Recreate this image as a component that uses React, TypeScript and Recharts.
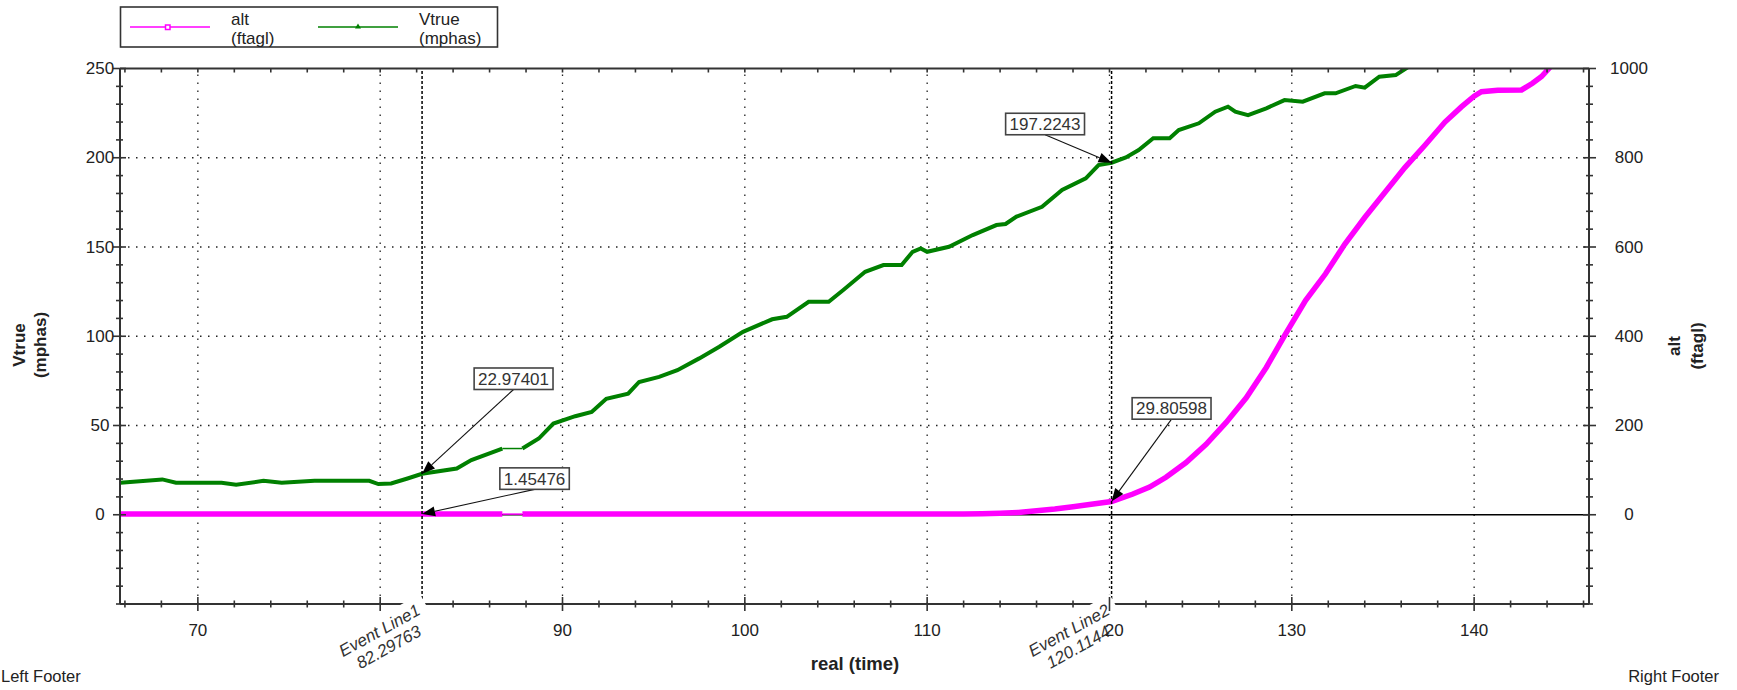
import React from 'react';
import { LineChart, Line, XAxis, YAxis, ReferenceLine, ReferenceDot } from 'recharts';

const FONT = '"Liberation Sans", Arial, Helvetica, sans-serif';
const W = 1737;
const H = 690;

// ---------- axes ----------
const X_DOMAIN: [number, number] = [65.73, 146.3];
const X_MAJOR = [70, 80, 90, 100, 110, 120, 130, 140];
const X_TICKS = [66, 68, 70, 72, 74, 76, 78, 80, 82, 84, 86, 88, 90, 92, 94, 96, 98, 100, 102, 104, 106, 108, 110, 112, 114, 116, 118, 120, 122, 124, 126, 128, 130, 132, 134, 136, 138, 140, 142, 144, 146];
const YL_DOMAIN: [number, number] = [-50, 250];
const YL_MAJOR = [0, 50, 100, 150, 200, 250];
const YL_TICKS = [-50, -40, -30, -20, -10, 0, 10, 20, 30, 40, 50, 60, 70, 80, 90, 100, 110, 120, 130, 140, 150, 160, 170, 180, 190, 200, 210, 220, 230, 240, 250];
const YR_DOMAIN: [number, number] = [-200, 1000];
const YR_MAJOR = [0, 200, 400, 600, 800, 1000];
const YR_TICKS = [-200, -160, -120, -80, -40, 0, 40, 80, 120, 160, 200, 240, 280, 320, 360, 400, 440, 480, 520, 560, 600, 640, 680, 720, 760, 800, 840, 880, 920, 960, 1000];
const X_GRID = [70, 80, 90, 100, 110, 120, 130, 140];
const Y_GRID = [50, 100, 150, 200];

// ---------- series: Vtrue (mphas), left axis ----------
const TIME_V = [65.75, 68.05, 68.8, 71.3, 72.1, 73.6, 74.6, 76.4, 79.4, 79.9, 80.6, 81.5, 82.29763, 84.2, 85.0, 86.7, 87.8, 88.7, 89.5, 90.7, 91.6, 92.4, 93.6, 94.2, 95.3, 96.3, 97.5, 98.6, 99.9, 101.5, 102.3, 103.5, 104.6, 105.4, 106.6, 107.6, 108.6, 109.2, 109.65, 110.0, 111.2, 112.5, 113.8, 114.3, 114.9, 116.3, 117.4, 118.7, 119.4, 120.1144, 120.9, 121.6, 122.4, 123.3, 123.8, 124.9, 125.8, 126.5, 126.9, 127.6, 128.6, 129.6, 130.6, 131.8, 132.4, 133.5, 134.0, 134.8, 135.7, 136.4, 137.0];
const VTRUE = [17.9, 19.8, 17.9, 17.9, 16.8, 19.0, 17.9, 19.0, 19.0, 17.2, 17.5, 20.3, 22.97401, 25.9, 30.6, 37.1, 37.1, 42.7, 51.1, 55.2, 57.6, 65.0, 67.8, 74.4, 77.2, 81.0, 87.6, 94.1, 102.5, 109.5, 110.9, 119.3, 119.3, 125.9, 136.1, 139.9, 139.9, 147.3, 149.2, 147.3, 150.1, 156.7, 162.3, 162.9, 167.0, 172.5, 181.9, 188.5, 195.9, 197.2243, 200.2, 204.3, 210.9, 210.9, 215.5, 219.3, 225.8, 228.6, 225.8, 223.9, 227.7, 232.3, 231.4, 236.1, 236.1, 240.2, 239.3, 245.4, 246.3, 251.0, 254.0];

// ---------- series: alt (ftagl), right axis ----------
const TIME_A = [65.75, 86.7, 87.8, 100, 110, 112, 113, 114, 115, 116, 117, 118, 119, 120.1144, 121.25, 122.2, 123.1, 124.2, 125.3, 126.4, 127.5, 128.6, 129.65, 130.75, 131.85, 132.9, 134.0, 135.1, 136.2, 137.3, 138.4, 139.3, 140.0, 140.4, 141.3, 142.6, 143.2, 143.7, 144.1, 144.4];
const ALT = [1.45476, 1.45, 1.45, 1.45, 1.45, 1.6, 2.2, 3.3, 5.0, 9.0, 13.0, 18.0, 23.5, 29.80598, 46, 62, 84, 117, 158, 207, 262, 330, 405, 480, 540, 606, 666, 722, 778, 828, 880, 914, 938, 948, 951, 952, 967, 982, 1000, 1015];

// data gap (no samples) in both series
const GAP_START = 86.7;
const GAP_END = 87.8;

// ---------- events & callouts ----------
const EVENTS = [82.29763, 120.1144];
const EVENT_NAMES = ['Event Line1', 'Event Line2'];
const CALLOUT_X = [82.29763, 82.29763, 120.1144, 120.1144];
const CALLOUT_Y = [22.97401, 1.45476, 197.2243, 29.80598];
const CALLOUT_AXIS = ['left', 'right', 'left', 'right'];
const CALLOUT_TEXT = ['22.97401', '1.45476', '197.2243', '29.80598'];
// layout offsets of the callout boxes (box centre relative to the pointed value)
const CALLOUT_OFFSET = [
  [91.5, -95],
  [112.5, -35.5],
  [-66.5, -38.7],
  [60, -93],
];

const AXIS_COLOR = '#333';
const TXT = '#222';

function textWidth(s: string, size: number) {
  let w = 0;
  for (const c of s) w += c === '.' ? 0.278 : 0.556;
  return w * size;
}

function rows(ts: number[], vs: number[], key: string, gapAt: number | null) {
  const out: any[] = [];
  ts.forEach((t, i) => {
    out.push({ t, [key]: vs[i] });
    if (gapAt !== null && t === gapAt) out.push({ t: t + 0.01, [key]: null });
  });
  return out;
}

function gapRows(ts: number[], vs: number[], key: string) {
  const i0 = ts.indexOf(GAP_START);
  const i1 = ts.indexOf(GAP_END);
  return [
    { t: ts[i0], [key]: vs[i0] },
    { t: ts[i1], [key]: vs[i1] },
  ];
}

const BottomTick = (props: any) => {
  const { x, y, payload } = props;
  const v = payload.value;
  const major = X_MAJOR.includes(v);
  // a tick label lying just left of an event line is covered by the event label
  const covered = EVENTS.some((e) => e - v >= 0 && e - v < 3);
  const minorHidden = !major && EVENTS.some((e) => e - v >= 0 && e - v < 1);
  return (
    <g>
      {!minorHidden && (
        <line x1={x} x2={x} y1={y - (major ? 7 : 3.5)} y2={y + (major ? 7 : 3.5)} stroke={AXIS_COLOR} strokeWidth={1.6} />
      )}
      {major && !covered && (
        <text x={x} y={y + 26} textAnchor="middle" dominantBaseline="central" fontSize={17} fontFamily={FONT} fill={TXT}>
          {v}
        </text>
      )}
      {major && covered && EVENTS.some((e) => e - v < 0.5) && (
        <text x={x + 4.7} y={y + 26} textAnchor="middle" dominantBaseline="central" fontSize={17} fontFamily={FONT} fill={TXT}>
          {String(v).slice(1)}
        </text>
      )}
    </g>
  );
};

const TopTick = (props: any) => {
  const { x, y } = props;
  return <line x1={x} x2={x} y1={y} y2={y + 4} stroke={AXIS_COLOR} strokeWidth={1.6} />;
};

const LeftTick = (props: any) => {
  const { x, y, payload } = props;
  const v = payload.value;
  const major = YL_MAJOR.includes(v);
  return (
    <g>
      <line x1={x - (major ? 7 : 4)} x2={x + (major ? 6 : 3)} y1={y} y2={y} stroke={AXIS_COLOR} strokeWidth={1.6} />
      {major && (
        <text x={x - 20} y={y} textAnchor="middle" dominantBaseline="central" fontSize={17} fontFamily={FONT} fill={TXT}>
          {v}
        </text>
      )}
    </g>
  );
};

const RightTick = (props: any) => {
  const { x, y, payload } = props;
  const v = payload.value;
  const major = YR_MAJOR.includes(v);
  return (
    <g>
      <line x1={x - (major ? 6 : 3)} x2={x + (major ? 7 : 4)} y1={y} y2={y} stroke={AXIS_COLOR} strokeWidth={1.6} />
      {major && (
        <text x={x + 40} y={y} textAnchor="middle" dominantBaseline="central" fontSize={17} fontFamily={FONT} fill={TXT}>
          {v}
        </text>
      )}
    </g>
  );
};

const Callout = ({ cx, cy, dx, dy, text }: any) => {
  const fs = 17;
  const bw = textWidth(text, fs) + 8;
  const bh = 21.5;
  const bx = cx + dx;
  const by = cy + dy;
  const sx = bx;
  const sy = by + bh / 2;
  const ang = Math.atan2(cy - sy, cx - sx);
  const L = 13;
  const hw = 5;
  const baseX = cx - L * Math.cos(ang);
  const baseY = cy - L * Math.sin(ang);
  const px = -Math.sin(ang) * hw;
  const py = Math.cos(ang) * hw;
  return (
    <g>
      <line x1={sx} y1={sy} x2={baseX} y2={baseY} stroke="#111" strokeWidth={1.1} />
      <polygon points={`${cx},${cy} ${baseX + px},${baseY + py} ${baseX - px},${baseY - py}`} fill="#000" />
      <rect x={bx - bw / 2} y={by - bh / 2} width={bw} height={bh} fill="#fff" stroke="#444" strokeWidth={1.6} />
      <text x={bx} y={by + 0.5} textAnchor="middle" dominantBaseline="central" fontSize={fs} fontFamily={FONT} fill="#333">
        {text}
      </text>
    </g>
  );
};

const EventLabel = ({ cx, cy, name, value }: any) => {
  const fs = 17;
  const w1 = textWidth(name, fs) * 0.98;
  const w2 = textWidth(value, fs);
  return (
    <g transform={`translate(${cx - 37.8},${cy + 35}) rotate(-29)`}>
      <rect x={-w1 / 2 - 2} y={-22} width={w1 + 4} height={22} fill="#fff" />
      <rect x={-w2 / 2 - 2} y={0} width={w2 + 4} height={19} fill="#fff" />
      <text x={0} y={-9.5} textAnchor="middle" dominantBaseline="central" fontSize={fs} fontStyle="italic" fontFamily={FONT} fill="#333">
        {name}
      </text>
      <text x={0} y={9.5} textAnchor="middle" dominantBaseline="central" fontSize={fs} fontStyle="italic" fontFamily={FONT} fill="#333">
        {value}
      </text>
    </g>
  );
};

export default function App() {
  const vRows = rows(TIME_V, VTRUE, 'v', GAP_START);
  const aRows = rows(TIME_A, ALT, 'a', GAP_START);
  const vGap = gapRows(TIME_V, VTRUE, 'v');
  const aGap = gapRows(TIME_A, ALT, 'a');

  return (
    <div style={{ position: 'absolute', left: 0, top: 0, width: W, height: H, background: '#fff' }}>
      <div style={{ position: 'absolute', left: 0, top: 0 }}>
        <LineChart width={W} height={H} margin={{ top: 38.5, right: 0, bottom: 0, left: 0 }}>
          <XAxis
            xAxisId="b"
            type="number"
            dataKey="t"
            domain={X_DOMAIN}
            allowDataOverflow
            ticks={X_TICKS}
            interval={0}
            tick={BottomTick}
            tickLine={false}
            tickSize={0}
            tickMargin={0}
            axisLine={{ stroke: AXIS_COLOR, strokeWidth: 2 }}
            height={86}
            orientation="bottom"
          />
          <XAxis
            xAxisId="t"
            type="number"
            dataKey="t"
            domain={X_DOMAIN}
            allowDataOverflow
            ticks={X_TICKS}
            interval={0}
            tick={TopTick}
            tickLine={false}
            tickSize={0}
            tickMargin={0}
            axisLine={{ stroke: AXIS_COLOR, strokeWidth: 2 }}
            height={30}
            orientation="top"
          />
          <YAxis
            yAxisId="left"
            type="number"
            domain={YL_DOMAIN}
            allowDataOverflow
            ticks={YL_TICKS}
            interval={0}
            tick={LeftTick}
            tickLine={false}
            tickSize={0}
            tickMargin={0}
            axisLine={{ stroke: AXIS_COLOR, strokeWidth: 2 }}
            width={120}
          />
          <YAxis
            yAxisId="right"
            orientation="right"
            type="number"
            domain={YR_DOMAIN}
            allowDataOverflow
            ticks={YR_TICKS}
            interval={0}
            tick={RightTick}
            tickLine={false}
            tickSize={0}
            tickMargin={0}
            axisLine={{ stroke: AXIS_COLOR, strokeWidth: 2 }}
            width={148}
          />

          {X_GRID.map((g) => (
            <ReferenceLine key={'gx' + g} x={g} xAxisId="b" yAxisId="left" stroke="#222" strokeWidth={1.3} strokeDasharray="1.5 6.5" />
          ))}
          {Y_GRID.map((g) => (
            <ReferenceLine key={'gy' + g} y={g} xAxisId="b" yAxisId="left" stroke="#222" strokeWidth={1.3} strokeDasharray="1.5 6.5" />
          ))}
          <ReferenceLine y={0} xAxisId="b" yAxisId="left" stroke="#000" strokeWidth={1.6} />

          <Line xAxisId="b" yAxisId="right" data={aRows} dataKey="a" type="linear" stroke="#FF00FF" strokeWidth={5.5} dot={false} activeDot={false} connectNulls={false} isAnimationActive={false} />
          <Line xAxisId="b" yAxisId="right" data={aGap} dataKey="a" type="linear" stroke="#FF00FF" strokeWidth={1.5} dot={false} activeDot={false} isAnimationActive={false} />
          <Line xAxisId="b" yAxisId="left" data={vRows} dataKey="v" type="linear" stroke="#008000" strokeWidth={4} dot={false} activeDot={false} connectNulls={false} isAnimationActive={false} />
          <Line xAxisId="b" yAxisId="left" data={vGap} dataKey="v" type="linear" stroke="#008000" strokeWidth={1.5} dot={false} activeDot={false} isAnimationActive={false} />

          {EVENTS.map((e) => (
            <ReferenceLine key={'ev' + e} x={e} xAxisId="b" yAxisId="left" stroke="#000" strokeWidth={1.5} strokeDasharray="3 2" />
          ))}

          {EVENTS.map((e, i) => (
            <ReferenceDot
              key={'el' + i}
              x={e}
              y={YL_DOMAIN[0]}
              xAxisId="b"
              yAxisId="left"
              r={1}
              ifOverflow="visible"
              shape={(p: any) => <EventLabel cx={p.cx} cy={p.cy} name={EVENT_NAMES[i]} value={String(e)} />}
            />
          ))}

          {CALLOUT_X.map((cxv, i) => (
            <ReferenceDot
              key={'co' + i}
              x={cxv}
              y={CALLOUT_Y[i]}
              xAxisId="b"
              yAxisId={CALLOUT_AXIS[i]}
              r={1}
              ifOverflow="visible"
              shape={(p: any) => (
                <Callout cx={p.cx} cy={p.cy} dx={CALLOUT_OFFSET[i][0]} dy={CALLOUT_OFFSET[i][1]} text={CALLOUT_TEXT[i]} />
              )}
            />
          ))}
        </LineChart>
      </div>

      <svg width={W} height={H} style={{ position: 'absolute', left: 0, top: 0, pointerEvents: 'none' }}>
        {/* legend */}
        <rect x={120.5} y={7} width={377} height={40} fill="#fff" stroke="#333" strokeWidth={1.6} />
        <line x1={130} x2={210} y1={27} y2={27} stroke="#FF00FF" strokeWidth={1.6} />
        <rect x={165.5} y={25} width={4.5} height={4.5} fill="#fff" stroke="#FF00FF" strokeWidth={1.5} />
        <text x={231} y={19} fontSize={17} fontFamily={FONT} fill={TXT} dominantBaseline="central">alt</text>
        <text x={231} y={38.5} fontSize={17} fontFamily={FONT} fill={TXT} dominantBaseline="central">(ftagl)</text>
        <line x1={318} x2={398} y1={27} y2={27} stroke="#008000" strokeWidth={1.6} />
        <polygon points="358,23.5 361,28.5 355,28.5" fill="#008000" />
        <text x={419} y={19} fontSize={17} fontFamily={FONT} fill={TXT} dominantBaseline="central">Vtrue</text>
        <text x={419} y={38.5} fontSize={17} fontFamily={FONT} fill={TXT} dominantBaseline="central">(mphas)</text>

        {/* axis titles */}
        <text x={19} y={345} transform="rotate(-90 19 345)" textAnchor="middle" dominantBaseline="central" fontSize={17} fontWeight="bold" fontFamily={FONT} fill={TXT}>Vtrue</text>
        <text x={40} y={345} transform="rotate(-90 40 345)" textAnchor="middle" dominantBaseline="central" fontSize={17} fontWeight="bold" fontFamily={FONT} fill={TXT}>(mphas)</text>
        <text x={1674} y={346} transform="rotate(-90 1674 346)" textAnchor="middle" dominantBaseline="central" fontSize={17} fontWeight="bold" fontFamily={FONT} fill={TXT}>alt</text>
        <text x={1697} y={346} transform="rotate(-90 1697 346)" textAnchor="middle" dominantBaseline="central" fontSize={17} fontWeight="bold" fontFamily={FONT} fill={TXT}>(ftagl)</text>
        <text x={855} y={663} textAnchor="middle" dominantBaseline="central" fontSize={18.5} fontWeight="bold" fontFamily={FONT} fill={TXT}>real (time)</text>

        {/* footers */}
        <text x={1} y={676} dominantBaseline="central" fontSize={16.5} fontFamily={FONT} fill={TXT}>Left Footer</text>
        <text x={1719} y={676} textAnchor="end" dominantBaseline="central" fontSize={16.5} fontFamily={FONT} fill={TXT}>Right Footer</text>
      </svg>
    </div>
  );
}
